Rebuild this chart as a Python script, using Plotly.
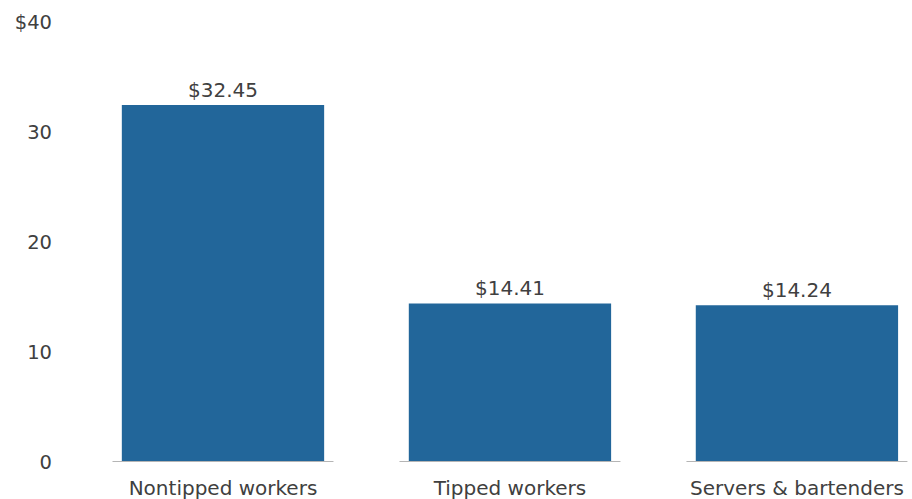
import plotly.graph_objects as go

categories = ["Nontipped workers", "Tipped workers", "Servers & bartenders"]
wages = [32.45, 14.41, 14.24]
bar_labels = ["$32.45", "$14.41", "$14.24"]
y_ticks = [0, 10, 20, 30, 40]
y_tick_text = ["0", "10", "20", "30", "$40"]

BAR_COLOR = "#22669a"
TEXT_COLOR = "#404040"
FONT = "DejaVu Sans"

fig = go.Figure(
    go.Bar(
        x=list(range(len(categories))),
        y=wages,
        text=bar_labels,
        textposition="outside",
        cliponaxis=False,
        textfont=dict(family=FONT, size=20, color=TEXT_COLOR),
        marker=dict(color=BAR_COLOR, line=dict(width=0)),
        width=0.705,
    )
)

# light baseline segment under each bar, a bit wider than the bar
for i in range(len(categories)):
    fig.add_shape(
        type="line", xref="x", yref="y",
        x0=i - 0.385, x1=i + 0.385, y0=0, y1=0,
        line=dict(color="#b5b5b5", width=2),
    )

fig.update_layout(
    width=912, height=499,
    margin=dict(l=75, r=2, t=22, b=37),
    paper_bgcolor="white", plot_bgcolor="white",
    showlegend=False,
    font=dict(family=FONT, color=TEXT_COLOR),
    xaxis=dict(
        range=[-0.5157, 2.394],
        tickmode="array",
        tickvals=list(range(len(categories))),
        ticktext=categories,
        tickfont=dict(family=FONT, size=20, color=TEXT_COLOR),
        showgrid=False, zeroline=False, showline=False, ticks="",
        ticklabelstandoff=12,
        automargin=False,
    ),
    yaxis=dict(
        range=[0, 40],
        tickmode="array",
        tickvals=y_ticks,
        ticktext=y_tick_text,
        tickfont=dict(family=FONT, size=19.5, color=TEXT_COLOR),
        showgrid=False, zeroline=False, showline=False, ticks="",
        ticklabelstandoff=22,
        automargin=False,
    ),
)

fig.write_html("out.html")
